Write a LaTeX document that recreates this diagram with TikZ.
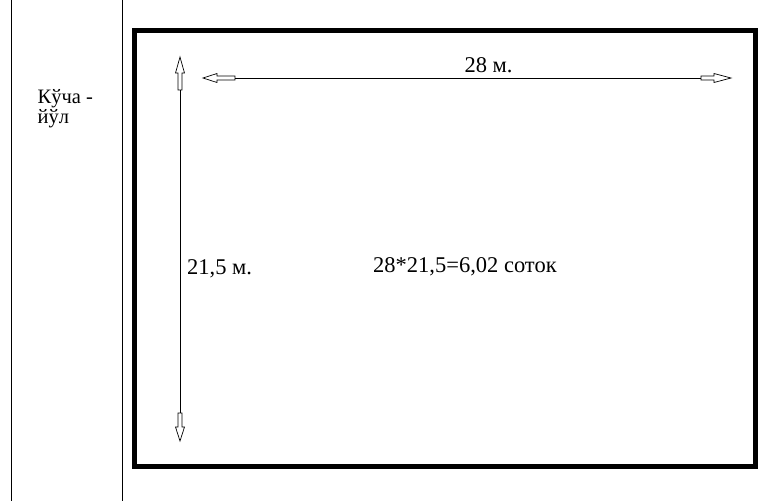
\documentclass[tikz,border=0pt]{standalone}
\usepackage{fontspec}
\setmainfont{Liberation Serif}
\begin{document}
\begin{tikzpicture}[x=1pt,y=-1pt,
  thin line/.style={line width=0.9pt},
  plot border/.style={line width=5pt},
  harrow/.style={line width=0.7pt},
  lbl/.style={font=\fontsize{22.5}{26}\selectfont, inner sep=0pt},
  street/.style={font=\fontsize{20.5}{24}\selectfont, inner sep=0pt, anchor=base west}]
\useasboundingbox (0,0) rectangle (783,501);
% side strip
\draw[thin line] (11,0) -- (11,501);
\draw[thin line] (122,0) -- (122,501);
\node[street] (street1) at (37.5,103) {Кўча -};
\node[street] (street2) at (37.5,123) {йўл};
% plot border
\draw[plot border] (134.5,30.5) rectangle (755,466);
% horizontal dimension
\coordinate (hl) at (235,78);
\coordinate (hr) at (701,78);
\draw[thin line] (hl) -- (hr);
\draw[harrow] (203,78) -- (217,73.5) -- (217,76) -- (235,76) -- (235,80) -- (217,80) -- (217,82.5) -- cycle;
\draw[harrow] (731,78) -- (714,73.5) -- (714,76) -- (701,76) -- (701,80) -- (714,80) -- (714,82.5) -- cycle;
% vertical dimension
\coordinate (vt) at (180,90);
\coordinate (vb) at (180,413);
\draw[thin line] (vt) -- (vb);
\draw[harrow] (180,57) -- (175.5,73) -- (178,73) -- (178,90) -- (182,90) -- (182,73) -- (184.5,73) -- cycle;
\draw[harrow] (180,441) -- (175.5,427) -- (178,427) -- (178,413) -- (182,413) -- (182,427) -- (184.5,427) -- cycle;
% labels
\node[lbl, anchor=base] (w) at (488.5,72) {28 м.};
\node[lbl, anchor=base west] (h) at (187,274) {21,5 м.};
\node[lbl, anchor=base west] (area) at (373,272) {28*21,5=6,02 соток};
\end{tikzpicture}
\end{document}
